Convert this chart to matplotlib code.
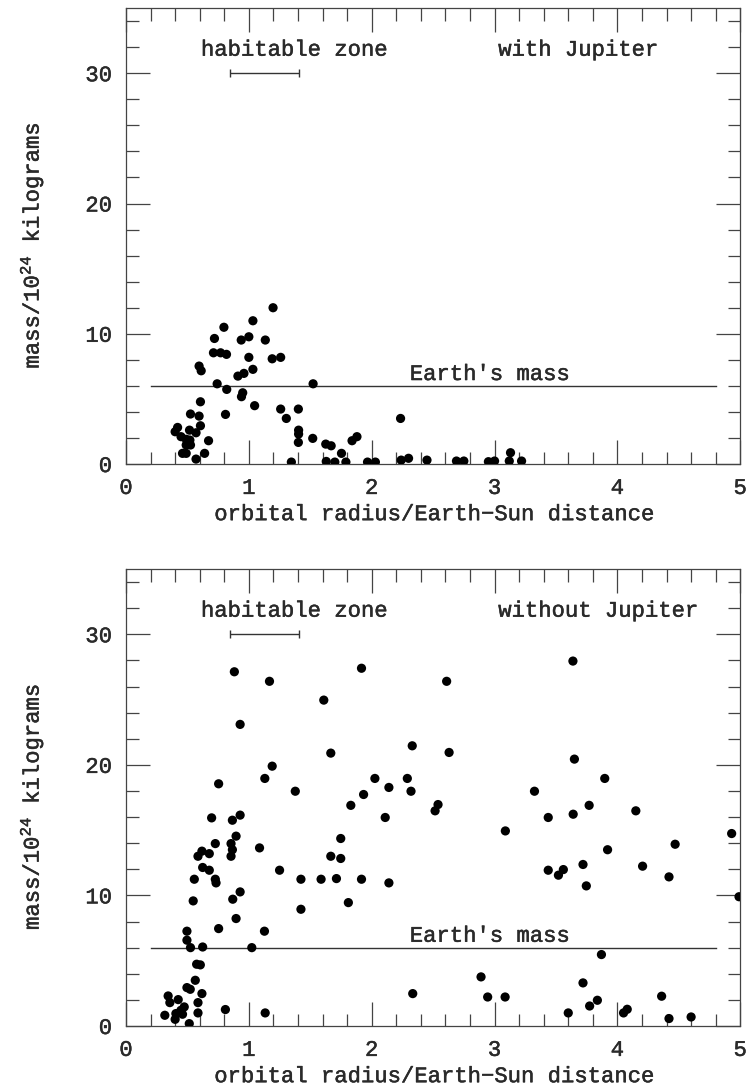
import matplotlib
matplotlib.use("Agg")
import matplotlib.pyplot as plt
import matplotlib.patheffects as pe
from matplotlib.ticker import MultipleLocator

plt.rcParams['font.family'] = ['Liberation Mono', 'DejaVu Sans Mono']
plt.rcParams['mathtext.fontset'] = 'custom'
plt.rcParams['mathtext.rm'] = 'Liberation Mono'
plt.rcParams['mathtext.it'] = 'Liberation Mono'

# ---- data: with Jupiter ----
top_x = [1.197, 0.797, 1.033, 0.720, 0.938, 1.000, 1.134, 0.712, 0.770, 0.818,
         1.000, 1.190, 1.259, 0.595, 0.612, 1.033, 0.911, 0.960, 0.742, 1.523,
         0.820, 0.950, 0.940, 0.606, 1.047, 1.259, 1.403, 0.525, 0.810, 0.595,
         1.305, 2.235, 0.420, 0.606, 0.400, 0.517, 0.570, 1.405, 1.405, 0.448,
         0.490, 0.520, 0.525, 0.490, 0.672, 1.403, 1.520, 1.880, 1.840, 1.626,
         1.670, 1.754, 0.460, 0.490, 0.640, 0.570, 1.346, 1.630, 1.700, 1.790,
         1.966, 2.030, 2.240, 2.300, 2.450, 2.690, 2.750, 2.950, 3.000, 3.130,
         3.120, 3.220]
top_y = [12.00, 10.50, 11.00, 9.64, 9.52, 9.77, 9.52, 8.54, 8.54, 8.42,
         8.19, 8.08, 8.19, 7.52, 7.16, 7.27, 6.75, 6.96, 6.16, 6.16,
         5.73, 5.47, 5.17, 4.78, 4.48, 4.22, 4.22, 3.84, 3.81, 3.68,
         3.50, 3.50, 2.81, 2.94, 2.48, 2.60, 2.40, 2.60, 2.30, 2.10,
         1.90, 1.84, 1.46, 1.46, 1.79, 1.66, 1.97, 2.10, 1.79, 1.53,
         1.40, 0.82, 0.82, 0.82, 0.82, 0.38, 0.15, 0.20, 0.15, 0.15,
         0.15, 0.15, 0.30, 0.44, 0.30, 0.23, 0.23, 0.18, 0.23, 0.87,
         0.23, 0.23]

# ---- data: without Jupiter ----
bot_x = [1.168, 1.610, 0.929, 1.667, 1.190, 1.130, 0.754, 1.378, 1.934, 1.830,
         0.697, 0.866, 0.929, 0.896, 1.748, 0.727, 0.855, 0.866, 1.087, 0.618,
         0.678, 0.586, 0.855, 1.667, 1.748,
         0.624, 0.678, 0.556, 0.727, 0.733, 1.250, 1.424, 1.588, 1.713, 1.917,
         0.929, 0.869, 0.547, 1.424, 1.810, 0.896, 0.754, 1.127, 0.496, 0.496,
         0.525, 0.624, 1.024, 0.575, 0.605, 0.564, 0.496, 0.523, 0.618, 0.343,
         0.357, 0.425, 0.586, 0.474, 0.447, 0.406, 0.316, 0.460, 0.400, 0.586,
         0.515, 0.809, 1.133,
         2.610, 2.330, 2.630, 3.650, 2.026, 2.290, 2.140, 2.320, 3.325, 2.540,
         2.516, 3.770, 2.110, 3.437, 3.640, 3.088,
         2.140, 3.437, 3.520, 3.560, 3.720, 3.747, 3.920, 4.205, 4.420, 4.470,
         4.990, 3.870, 2.334, 2.890, 2.944, 3.086, 3.720, 3.837, 3.774, 3.600,
         4.050, 4.080, 4.360, 4.420, 4.600,
         0.882, 1.917, 3.638, 3.897, 4.150, 4.930]
bot_y = [26.40, 24.96, 23.10, 20.90, 19.90, 18.96, 18.55, 17.98, 17.73, 16.90,
         15.94, 15.76, 16.15, 14.54, 14.36, 13.97, 13.97, 13.50, 13.64, 13.39,
         13.20, 13.00, 13.00, 13.00, 12.83,
         12.14, 11.93, 11.24, 11.24, 10.96, 11.93, 11.24, 11.24, 11.29, 11.24,
         10.27, 9.71, 9.58, 8.94, 9.45, 8.23, 7.46, 7.26, 7.26, 6.57,
         6.00, 6.05, 6.00, 4.73, 4.68, 3.50, 2.94, 2.81, 2.48, 2.30,
         1.79, 2.02, 1.79, 1.46, 1.20, 0.95, 0.82, 0.90, 0.51, 1.00,
         0.18, 1.26, 1.00,
         26.40, 21.46, 20.95, 20.44, 18.96, 18.96, 18.27, 17.98, 17.98, 16.96,
         16.48, 16.90, 15.97, 15.97, 16.22, 14.94,
         10.96, 11.93, 11.55, 11.98, 12.37, 10.73, 13.50, 12.24, 11.42, 13.92,
         9.90, 5.47, 2.48, 3.76, 2.22, 2.22, 3.30, 1.97, 1.53, 1.00,
         1.00, 1.28, 2.28, 0.57, 0.69,
         27.13, 27.40, 27.95, 18.96, 16.48, 14.74]

panel_titles = ["with Jupiter", "without Jupiter"]
earth_mass = 6.0
earth_line = (0.2, 4.8)
habitable = (0.85, 1.41)
habitable_y = 30.0

fig = plt.figure(figsize=(7.5, 10.88), dpi=100)
ax_top = fig.add_axes([0.168, 0.5735, 0.819, 0.419])
ax_bot = fig.add_axes([0.168, 0.057, 0.819, 0.420])

ink = '#2a2a2a'
thick = [pe.withStroke(linewidth=0.35, foreground=ink)]
FS = 16

for ax, xs, ys, title in [(ax_top, top_x, top_y, panel_titles[0]),
                          (ax_bot, bot_x, bot_y, panel_titles[1])]:
    ax.scatter(xs, ys, s=44, color='black', edgecolors='none', zorder=3, clip_on=True)
    ax.set_xlim(0, 5)
    ax.set_ylim(0, 35)
    ax.plot(earth_line, [earth_mass, earth_mass], color='#333333', lw=1.0)
    ax.text(2.31, earth_mass + 0.45, "Earth's mass", fontsize=FS, color=ink,
            ha='left', va='baseline', path_effects=thick)
    hz_c = (habitable[0] + habitable[1]) / 2
    ax.errorbar(hz_c, habitable_y, xerr=(habitable[1] - habitable[0]) / 2,
                fmt='none', ecolor='#333333', elinewidth=1.0, capsize=3, capthick=1.0)
    ax.text(0.61, 31.35, "habitable zone", fontsize=FS, color=ink, ha='left',
            va='baseline', path_effects=thick)
    ax.text(3.03, 31.35, title, fontsize=FS, color=ink, ha='left', va='baseline',
            path_effects=thick)

    ax.xaxis.set_major_locator(MultipleLocator(1))
    ax.xaxis.set_minor_locator(MultipleLocator(0.2))
    ax.yaxis.set_major_locator(MultipleLocator(10))
    ax.yaxis.set_minor_locator(MultipleLocator(2))
    ax.tick_params(which='both', direction='in', top=True, right=True,
                   color='#444444', width=0.9, labelsize=FS, labelcolor=ink)
    ax.tick_params(which='major', length=17)
    ax.tick_params(axis='x', which='major', pad=10)
    ax.tick_params(axis='y', which='major', pad=10)
    ax.tick_params(which='minor', length=9)
    for sp in ax.spines.values():
        sp.set_color('#444444')
        sp.set_linewidth(0.9)
    for lab in ax.get_xticklabels() + ax.get_yticklabels():
        lab.set_path_effects(thick)
    ax.set_xlabel("orbital radius/Earth\u2212Sun distance", fontsize=FS, color=ink,
                  path_effects=thick)
    ax.set_ylabel("mass/10$^{24}$ kilograms", fontsize=FS, color=ink,
                  path_effects=thick)
    ax.xaxis.set_label_coords(0.503, -0.088)
    ax.yaxis.set_label_coords(-0.13, 0.48)

fig.savefig("out.png", dpi=100, facecolor='white')
